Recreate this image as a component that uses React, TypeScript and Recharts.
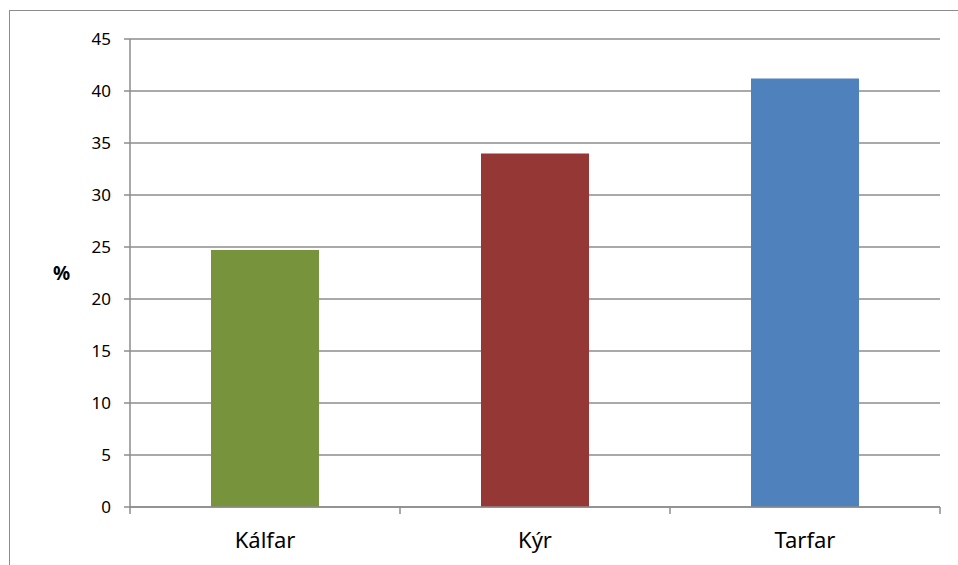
import React from "react";
import { BarChart, Bar, XAxis, YAxis, CartesianGrid, Cell, Label } from "recharts";

const categories = ["Kálfar", "Kýr", "Tarfar"];
const values = [24.7, 34.0, 41.2];
const colors = ["#77933c", "#953735", "#4f81bd"];
const yTicks = [0, 5, 10, 15, 20, 25, 30, 35, 40, 45];
const yLabel = "%";

const data = categories.map((c, i) => ({ name: c, value: values[i] }));

const FONT = "'Noto Sans', 'DejaVu Sans', sans-serif";
const GRAY = "#8c8c8c";

const XTick = (props: any) => {
  const { x, payload, index, visibleTicksCount, width } = props;
  const band = width && visibleTicksCount ? width / visibleTicksCount : 270;
  const axisY = 507;
  const left = x - band / 2;
  const right = x + band / 2;
  return (
    <g>
      <line x1={left} x2={left} y1={axisY} y2={axisY + 7} stroke={GRAY} strokeWidth={1.5} />
      {index === visibleTicksCount - 1 && (
        <line x1={right} x2={right} y1={axisY} y2={axisY + 7} stroke={GRAY} strokeWidth={1.5} />
      )}
      <text x={x} y={axisY + 41} textAnchor="middle" fill="#000" fontSize={22} fontFamily={FONT}>
        {payload.value}
      </text>
    </g>
  );
};

export default function App() {
  return (
    <div style={{ position: "fixed", left: 0, top: 0, width: 958, height: 565, background: "#fff", overflow: "hidden" }}>
      <div
        style={{
          position: "absolute",
          left: 9,
          top: 10,
          width: 1000,
          height: 600,
          border: `1.5px solid ${GRAY}`,
          boxSizing: "border-box",
        }}
      />
      <div style={{ position: "absolute", left: 0, top: 0 }}>
        <BarChart
          width={958}
          height={565}
          data={data}
          margin={{ top: 39, right: 18, bottom: 0, left: 0 }}
          barCategoryGap="30%"
        >
          <CartesianGrid horizontal vertical={false} stroke={GRAY} strokeWidth={1.5} />
          <XAxis
            dataKey="name"
            height={58}
            tick={<XTick />}
            tickLine={false}
            axisLine={{ stroke: GRAY, strokeWidth: 1.5 }}
            interval={0}
          />
          <YAxis
            width={130}
            domain={[0, 45]}
            ticks={yTicks}
            interval={0}
            tickSize={6}
            tickMargin={13}
            tickLine={{ stroke: GRAY, strokeWidth: 1.5 }}
            axisLine={{ stroke: GRAY, strokeWidth: 1.5 }}
            tick={{ fill: "#000", fontSize: 17, fontFamily: FONT }}
          >
            <Label
              value={yLabel}
              position="insideLeft"
              offset={53}
              style={{ fill: "#000", fontSize: 19, fontWeight: "bold", fontFamily: FONT }}
            />
          </YAxis>
          <Bar dataKey="value" isAnimationActive={false}>
            {data.map((d, i) => (
              <Cell key={d.name} fill={colors[i]} />
            ))}
          </Bar>
        </BarChart>
      </div>
    </div>
  );
}
